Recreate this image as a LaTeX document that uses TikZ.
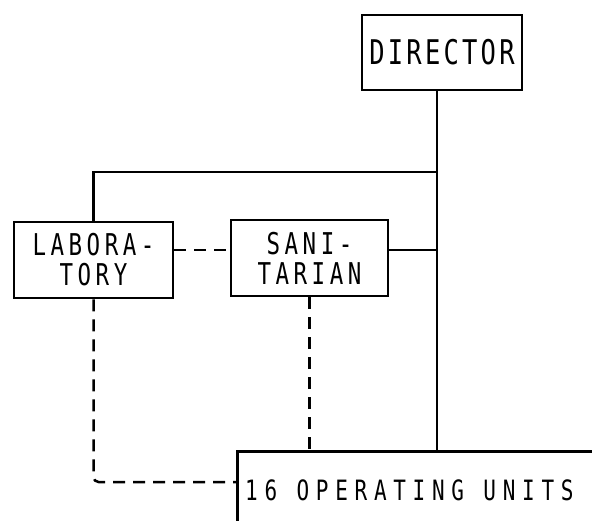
\documentclass[tikz,border=0pt]{standalone}
\usepackage{fontspec}
\newfontfamily\dirfont{DejaVu Sans Mono}[FakeStretch=0.75,LetterSpace=9.5]
\newfontfamily\boxfont{DejaVu Sans Mono}[FakeStretch=0.75,LetterSpace=15]
\newfontfamily\unitfont{DejaVu Sans Mono}[FakeStretch=0.75,LetterSpace=24]
\usetikzlibrary{positioning}
\tikzset{
  orgbox/.style={draw, line width=2.8pt, inner sep=0pt, align=center,
    font=\boxfont\fontsize{30}{30}\selectfont},
  orgline/.style={line width=2.8pt},
  dotline/.style={line width=2.5pt, dash pattern=on 12pt off 8pt}
}
\begin{document}
\begin{tikzpicture}[x=1pt,y=-1pt]
        \useasboundingbox (0,0) rectangle (592,521);
        \clip (0,0) rectangle (592,521);
        % boxes
        \node[orgbox, minimum width=160, minimum height=75, font=\dirfont\fontsize{34}{30}\selectfont] (director) at (442,52.5) {DIRECTOR};
        \node[orgbox, minimum width=159, minimum height=76] (lab) at (93.5,260) {LABORA-\\TORY};
        \node[orgbox, minimum width=157, minimum height=76] (san) at (309.5,258) {SANI-\\TARIAN};
        \node[orgbox, anchor=north west, minimum width=420, minimum height=130] (units) at (236,450) {};
        \node[anchor=base west, inner sep=0pt, font=\unitfont\fontsize{28}{30}\selectfont] (unitstext) at (245,500) {16 OPERATING UNITS};
        % solid lines
        \coordinate (trunk) at ([xshift=-5pt]director.south);
        \draw[orgline] (trunk) -- (trunk |- units.north);
        \draw[orgline] (lab.north) |- (trunk |- 0,172);
        \draw[orgline] (san.east |- 0,250) -- (trunk |- 0,250);
        % dashed lines
        \draw[dotline] (lab.east |- 0,250) -- (san.west |- 0,250);
        \draw[dotline] (san.south) -- (san.south |- units.north);
        \draw[dotline, rounded corners=5pt] (lab.south) |- (units.north west |- 0,482);
\end{tikzpicture}
\end{document}
